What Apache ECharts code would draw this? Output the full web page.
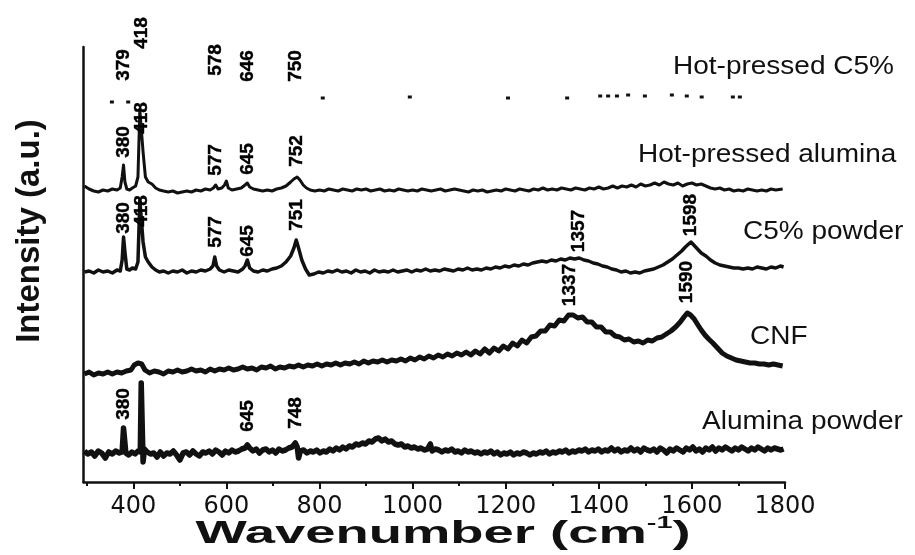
<!DOCTYPE html>
<html>
<head>
<meta charset="utf-8">
<script src="https://cdn.jsdelivr.net/npm/echarts@6/dist/echarts.min.js"></script>
<style>
  html, body { margin: 0; padding: 0; background: #ffffff; }
  #chart { width: 915px; height: 555px; }
</style>
</head>
<body>
<div id="chart"></div>
<script>
// Raman spectra, stacked with vertical offsets; intensity in arbitrary units.

const xMajorTicks = [400, 600, 800, 1000, 1200, 1400, 1600, 1800];
const xMinorTicks = [300, 500, 700, 900, 1100, 1300, 1500, 1700];

// Alumina powder (bottom trace)
const aluminaPowder = [[295,31],[302,28],[310,30],[317,26],[325,31],[332,29],[340,24],[347,30],[355,28],[362,31],[370,29],[376,30],[379,54],[381,54],[384,29],[390,27],[397,30],[404,28],[410,31],[415,30],[417,99],[419,99],[421,20],[424,33],[430,30],[437,28],[444,29],[451,25],[458,30],[465,26],[472,29],[479,28],[486,31],[493,27],[500,22],[507,29],[514,30],[521,27],[528,31],[535,28],[542,26],[549,30],[556,29],[563,31],[570,28],[577,32],[584,30],[591,27],[598,31],[605,29],[612,32],[619,30],[626,31],[633,33],[640,34],[645,37],[650,34],[657,31],[664,33],[671,29],[678,32],[685,33],[692,30],[699,32],[706,29],[713,33],[720,31],[727,32],[734,34],[741,35],[748,39],[752,35],[755,24],[759,31],[766,32],[773,29],[780,31],[787,30],[794,32],[801,29],[808,31],[815,30],[822,33],[829,31],[836,34],[843,32],[850,35],[857,33],[864,36],[871,35],[878,38],[885,37],[892,39],[899,38],[906,41],[913,40],[920,43],[927,44],[934,41],[941,43],[948,40],[955,41],[962,38],[969,37],[976,38],[983,35],[990,36],[997,34],[1004,35],[1011,33],[1018,34],[1025,32],[1032,33],[1038,38],[1042,31],[1049,33],[1056,32],[1063,30],[1070,32],[1077,31],[1084,33],[1091,30],[1098,31],[1105,29],[1112,32],[1119,30],[1126,31],[1133,29],[1140,30],[1147,28],[1154,30],[1161,29],[1168,31],[1175,28],[1182,30],[1189,27],[1196,29],[1203,28],[1210,30],[1217,27],[1224,29],[1231,28],[1238,30],[1245,29],[1252,27],[1259,29],[1266,28],[1273,30],[1280,29],[1287,31],[1294,28],[1301,30],[1308,29],[1315,31],[1322,30],[1329,32],[1336,29],[1343,31],[1350,30],[1357,32],[1364,31],[1371,33],[1378,30],[1385,32],[1392,31],[1399,33],[1406,30],[1413,32],[1420,31],[1427,34],[1434,31],[1441,33],[1448,30],[1455,32],[1462,31],[1469,34],[1476,31],[1483,33],[1490,30],[1497,34],[1504,32],[1511,31],[1518,33],[1525,30],[1532,34],[1539,32],[1546,29],[1553,33],[1560,31],[1567,34],[1574,32],[1581,30],[1588,34],[1595,32],[1602,35],[1609,31],[1616,33],[1623,30],[1630,34],[1637,32],[1644,35],[1651,31],[1658,34],[1665,32],[1672,35],[1679,33],[1686,31],[1693,34],[1700,32],[1707,35],[1714,33],[1721,31],[1728,34],[1735,32],[1742,35],[1749,33],[1756,31],[1763,34],[1770,32],[1777,34],[1784,33],[1791,32],[1797,33]];

// Carbon nanofibres
const cnf = [[295,108],[305,110],[315,107],[325,109],[335,108],[345,110],[355,108],[365,110],[375,109],[385,111],[395,112],[402,117],[410,119],[418,118],[425,112],[435,109],[445,111],[455,110],[465,108],[475,111],[485,110],[495,112],[505,110],[515,111],[525,113],[535,111],[545,112],[555,110],[565,113],[575,111],[585,113],[595,112],[605,114],[615,112],[625,113],[635,115],[645,113],[655,114],[665,112],[675,115],[685,114],[695,116],[705,113],[715,115],[725,114],[735,116],[745,115],[755,117],[765,115],[775,117],[785,116],[795,118],[805,116],[815,118],[825,117],[835,119],[845,117],[855,119],[865,118],[875,120],[885,118],[895,121],[905,119],[915,121],[925,120],[935,122],[945,120],[955,122],[965,121],[975,123],[985,121],[995,124],[1005,122],[1015,125],[1025,123],[1035,126],[1045,124],[1055,127],[1065,125],[1075,128],[1085,126],[1095,129],[1105,127],[1115,130],[1125,127],[1135,131],[1145,128],[1155,133],[1165,129],[1175,134],[1185,131],[1195,136],[1205,133],[1215,139],[1225,136],[1235,142],[1245,139],[1255,145],[1265,146],[1275,151],[1285,151],[1295,157],[1305,156],[1315,162],[1325,161],[1335,167],[1345,167],[1355,164],[1365,165],[1375,160],[1385,160],[1395,155],[1405,155],[1415,150],[1425,150],[1435,146],[1445,145],[1455,142],[1465,143],[1475,140],[1485,141],[1495,139],[1505,142],[1515,141],[1525,144],[1535,145],[1545,148],[1555,151],[1565,155],[1575,160],[1583,165],[1590,169],[1597,167],[1605,163],[1613,157],[1620,152],[1628,147],[1636,143],[1645,139],[1655,134],[1665,129],[1675,126],[1685,124],[1695,122],[1705,121],[1715,120],[1725,119],[1735,119],[1745,118],[1755,118],[1765,117],[1775,118],[1785,117],[1795,116]];

// C5% powder
const c5Powder = [[295,210],[305,211],[315,209],[325,212],[335,210],[345,211],[355,209],[365,212],[372,211],[376,222],[379,245],[382,230],[386,213],[392,212],[398,214],[405,213],[410,220],[414,282],[418,282],[421,240],[426,225],[432,220],[440,215],[448,212],[456,210],[465,211],[475,209],[485,211],[495,210],[505,212],[515,209],[525,211],[535,210],[545,212],[555,211],[565,213],[571,216],[575,225],[579,216],[585,212],[595,210],[605,212],[615,211],[625,210],[635,213],[640,216],[645,222],[650,214],[658,211],[668,210],[678,212],[688,211],[698,213],[708,214],[718,216],[728,220],[738,226],[745,234],[750,242],[755,234],[762,222],[770,213],[778,207],[788,208],[798,210],[808,209],[818,211],[828,210],[838,212],[848,210],[858,211],[868,209],[878,212],[888,210],[898,211],[908,209],[918,212],[928,210],[938,211],[948,210],[958,212],[968,210],[978,211],[988,212],[998,210],[1008,212],[1018,211],[1028,213],[1038,211],[1048,212],[1058,211],[1068,213],[1078,212],[1088,211],[1098,213],[1108,212],[1118,214],[1128,212],[1138,213],[1148,212],[1158,214],[1168,213],[1178,215],[1188,214],[1198,216],[1208,215],[1218,217],[1228,216],[1238,218],[1248,217],[1258,219],[1268,220],[1278,221],[1288,220],[1298,222],[1308,221],[1318,223],[1328,222],[1338,224],[1348,223],[1358,224],[1368,222],[1378,221],[1388,219],[1398,218],[1408,216],[1418,215],[1428,213],[1438,212],[1448,210],[1458,211],[1468,209],[1478,210],[1488,209],[1498,211],[1508,212],[1518,213],[1528,215],[1538,217],[1548,220],[1558,223],[1568,227],[1578,231],[1586,235],[1593,238],[1598,240],[1604,237],[1612,233],[1620,229],[1630,226],[1640,222],[1650,219],[1660,217],[1670,216],[1680,215],[1690,214],[1700,214],[1710,213],[1720,214],[1730,213],[1740,215],[1750,214],[1760,213],[1770,215],[1780,214],[1790,216],[1797,215]];

// Hot-pressed alumina
const hotPressedAlumina = [[295,296],[305,293],[315,291],[325,290],[335,292],[345,291],[355,293],[365,292],[372,294],[376,305],[379,317],[382,300],[386,293],[392,292],[398,294],[405,296],[410,305],[414,372],[418,372],[421,330],[426,305],[432,300],[440,298],[448,294],[456,292],[465,291],[475,290],[485,291],[495,289],[505,290],[515,291],[525,290],[535,292],[545,291],[555,293],[565,292],[572,294],[577,297],[582,293],[590,294],[596,297],[600,301],[604,294],[612,292],[622,293],[632,294],[640,297],[645,299],[650,295],[658,293],[668,292],[678,291],[688,292],[698,291],[708,293],[718,294],[728,296],[738,300],[745,303],[752,305],[758,302],[765,297],[772,294],[780,292],[790,291],[800,292],[810,291],[820,293],[830,292],[840,291],[850,293],[860,292],[870,291],[880,293],[890,292],[900,293],[910,291],[920,292],[930,293],[940,291],[950,292],[960,291],[970,293],[980,292],[990,291],[1000,292],[1010,291],[1020,293],[1030,292],[1040,291],[1050,292],[1060,293],[1070,291],[1080,292],[1090,293],[1100,292],[1110,291],[1120,290],[1130,292],[1140,291],[1150,292],[1160,290],[1170,291],[1180,292],[1190,291],[1200,293],[1210,292],[1220,291],[1230,293],[1240,292],[1250,291],[1260,293],[1270,292],[1280,294],[1290,292],[1300,293],[1310,292],[1320,294],[1330,293],[1340,292],[1350,294],[1360,293],[1370,292],[1380,294],[1390,293],[1400,295],[1410,293],[1420,294],[1430,296],[1440,294],[1450,296],[1460,295],[1470,297],[1480,295],[1490,298],[1500,296],[1510,297],[1520,299],[1530,297],[1540,300],[1550,298],[1560,297],[1570,299],[1580,296],[1590,298],[1600,299],[1610,297],[1620,298],[1630,296],[1640,294],[1650,293],[1660,294],[1670,292],[1680,293],[1690,291],[1700,292],[1710,291],[1720,293],[1730,292],[1740,291],[1750,292],[1760,291],[1770,293],[1780,292],[1795,293]];

// Hot-pressed C5%: only faint fragments of the trace survive
const hotPressedC5 = [[354,380],[389,380],[807,384],[994,385],[1205,384],[1332,384],[1403,386],[1420,386],[1439,386],[1463,387],[1499,386],[1557,387],[1589,386],[1621,385],[1688,385],[1703,385]];

// Assigned peak positions (cm-1) for each spectrum
const hotPressedC5Peaks = [379, 418, 578, 646, 750];
const hotPressedAluminaPeaks = [380, 418, 577, 645, 752];
const c5PowderPeaks = [380, 418, 577, 645, 751, 1357, 1598];
const cnfPeaks = [1337, 1590];
const aluminaPowderPeaks = [380, 645, 748];

const seriesNames = ['Hot-pressed C5%', 'Hot-pressed alumina', 'C5% powder', 'CNF', 'Alumina powder'];

// ---- layout ----
const INK = '#111111';
const chart = echarts.init(document.getElementById('chart'));

// heights (a.u.) at which each peak annotation is centred
const peakLabelHeights = [
  [hotPressedC5Peaks, [417, 449, 422, 416, 416]],
  [hotPressedAluminaPeaks, [340, 364, 322, 323, 331]],
  [c5PowderPeaks, [264, 271, 250, 241, 267, 251, 267]],
  [cnfPeaks, [197, 200]],
  [aluminaPowderPeaks, [78, 66, 69]]
];
const peakLabelData = [];
peakLabelHeights.forEach(([peaks, hs]) => {
  peaks.forEach((p, i) => peakLabelData.push([p, hs[i], String(p)]));
});

function spectrum(name, data, width) {
  return {
    name, type: 'line', data,
    showSymbol: false, symbol: 'none', smooth: false,
    lineStyle: { color: INK, width, join: 'round' },
    animation: false, silent: true
  };
}

// name tags to the right of each trace: [left px, centre y px]
const tagPos = [[673, 67], [638, 155], [743, 232], [750, 337], [702, 422]];
const tagGraphics = seriesNames.map((n, i) => ({
  type: 'text', x: tagPos[i][0], y: tagPos[i][1], scaleX: 1.12,
  style: {
    text: n, fill: INK, fontFamily: 'Liberation Sans, Arial, sans-serif',
    fontSize: 25, textAlign: 'left', textVerticalAlign: 'middle',
    align: 'left', verticalAlign: 'middle'
  }
}));

const option = {
  backgroundColor: '#ffffff',
  animation: false,
  grid: { left: 83.5, right: 130, top: 47, bottom: 73, containLabel: false },
  xAxis: [
    {
      type: 'value', min: 293, max: 1800,
      axisLine: { show: true, lineStyle: { color: INK, width: 2.5 } },
      axisTick: { show: true, customValues: xMajorTicks, length: 7, lineStyle: { color: INK, width: 2 } },
      axisLabel: {
        show: true, customValues: xMajorTicks, color: INK,
        formatter: v => String(v),
        fontFamily: 'DejaVu Sans, sans-serif', fontSize: 24, margin: 13
      },
      splitLine: { show: false }
    },
    {
      type: 'value', min: 293, max: 1800, position: 'bottom',
      axisLine: { show: false },
      axisTick: { show: true, customValues: xMinorTicks, length: 4, lineStyle: { color: INK, width: 2 } },
      axisLabel: { show: false },
      splitLine: { show: false }
    }
  ],
  yAxis: {
    type: 'value', min: 0, max: 435,
    axisLine: { show: true, lineStyle: { color: INK, width: 2.5 } },
    axisTick: { show: false }, axisLabel: { show: false }, splitLine: { show: false }
  },
  series: [
    spectrum(seriesNames[4], aluminaPowder, 5.5),
    spectrum(seriesNames[3], cnf, 5),
    spectrum(seriesNames[2], c5Powder, 3.5),
    spectrum(seriesNames[1], hotPressedAlumina, 3),
    {
      name: seriesNames[0], type: 'scatter', data: hotPressedC5,
      symbol: 'rect', symbolSize: [4, 3], itemStyle: { color: INK, opacity: 1 }, silent: true
    },
    {
      name: 'peaks', type: 'scatter', data: peakLabelData, clip: false,
      symbolSize: 1, silent: true, z: 5,
      itemStyle: { color: 'rgba(255,255,255,0)', opacity: 1 },
      label: {
        show: true, position: 'inside', rotate: 90,
        formatter: p => p.value[2],
        color: '#000000', opacity: 1, fontFamily: 'Liberation Sans, Arial, sans-serif',
        fontWeight: 'bold', fontSize: 19,
        textBorderColor: '#000000', textBorderWidth: 0.4
      }
    }
  ],
  graphic: [
    {
      type: 'text', x: 30, y: 231, rotation: Math.PI / 2,
      style: {
        text: 'Intensity (a.u.)', fill: INK,
        fontFamily: 'Liberation Sans, Arial, sans-serif', fontWeight: 'bold', fontSize: 33,
        textAlign: 'center', textVerticalAlign: 'middle', align: 'center', verticalAlign: 'middle'
      }
    },
    {
      type: 'text', x: 443, y: 534, scaleX: 1.7,
      style: {
        text: 'Wavenumber (cm{sup|-1})', fill: INK,
        fontFamily: 'Liberation Sans, Arial, sans-serif', fontWeight: 'bold', fontSize: 32,
        lineHeight: 38,
        textAlign: 'center', textVerticalAlign: 'middle', align: 'center', verticalAlign: 'middle',
        rich: {
          sup: {
            fontFamily: 'Liberation Sans, Arial, sans-serif', fontWeight: 'bold',
            fontSize: 17, fill: INK, verticalAlign: 'top', lineHeight: 38
          }
        }
      }
    }
  ].concat(tagGraphics)
};

chart.setOption(option);
</script>
</body>
</html>
